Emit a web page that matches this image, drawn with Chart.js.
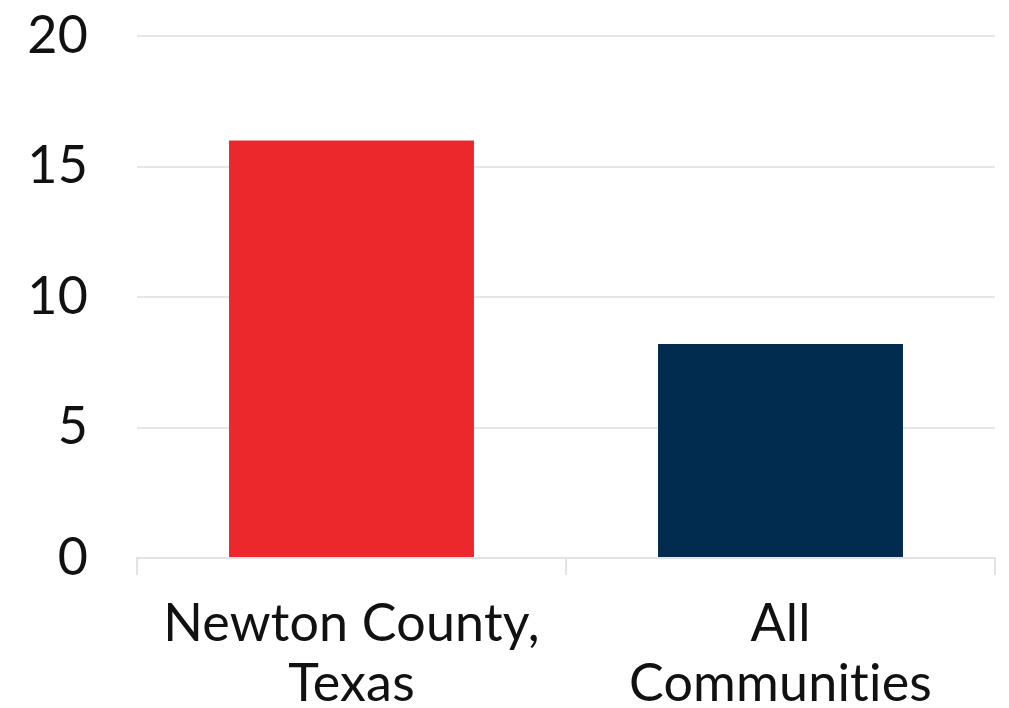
<!DOCTYPE html>
<html>
<head>
<meta charset="utf-8">
<script src="https://cdn.jsdelivr.net/npm/chart.js@4"></script>
<style>
  html, body { margin: 0; padding: 0; background: #fff; }
  #wrap { width: 1009px; height: 708px; }
</style>
</head>
<body>
<div id="wrap"><canvas id="c" width="1009" height="708"></canvas></div>
<script>
// categories en waarden
const categories = [['Newton County,', 'Texas'], ['All', 'Communities']];
const values = [16, 8.2];
const barColors = ['#ED282D', '#022B50'];
const yTicks = [0, 5, 10, 15, 20];

// geen ligaturen (ti) in de labels
const noLigatures = {
    id: 'noLigatures',
    beforeDraw: chart => { chart.ctx.letterSpacing = '0.2px'; }
};

const ctx = document.getElementById('c').getContext('2d');
new Chart(ctx, {
    type: 'bar',
    data: {
        labels: categories,
        datasets: [{ data: values, backgroundColor: barColors, borderWidth: 0 }]
    },
    plugins: [noLigatures],
    options: {
        responsive: false,
        animation: false,
        layout: { padding: { top: 36, right: 14, left: 0, bottom: 0 } },
        plugins: { legend: { display: false }, tooltip: { enabled: false } },
        datasets: { bar: { categoryPercentage: 1, barPercentage: 0.571 } },
        scales: {
            x: {
                offset: true,
                grid: { offset: true, drawOnChartArea: false, color: '#e3e3e3', lineWidth: 2, tickLength: 17 },
                border: { color: '#e3e3e3', width: 2 },
                ticks: { color: '#111', padding: 19, font: { family: 'Lato', size: 52, lineHeight: 1.16 }, maxRotation: 0 },
                afterFit: s => { s.height = 150; s.paddingLeft = 0; s.paddingRight = 0; }
            },
            y: {
                min: 0, max: 20,
                afterBuildTicks: s => { s.ticks = yTicks.map(v => ({ value: v })); },
                grid: { color: '#e6e6e6', lineWidth: 2, drawTicks: false },
                border: { display: false },
                ticks: { color: '#111', padding: 49, font: { family: 'Lato', size: 52 } },
                afterFit: s => { s.width = 137; s.paddingTop = 0; s.paddingBottom = 0; }
            }
        }
    }
});
</script>
</body>
</html>
